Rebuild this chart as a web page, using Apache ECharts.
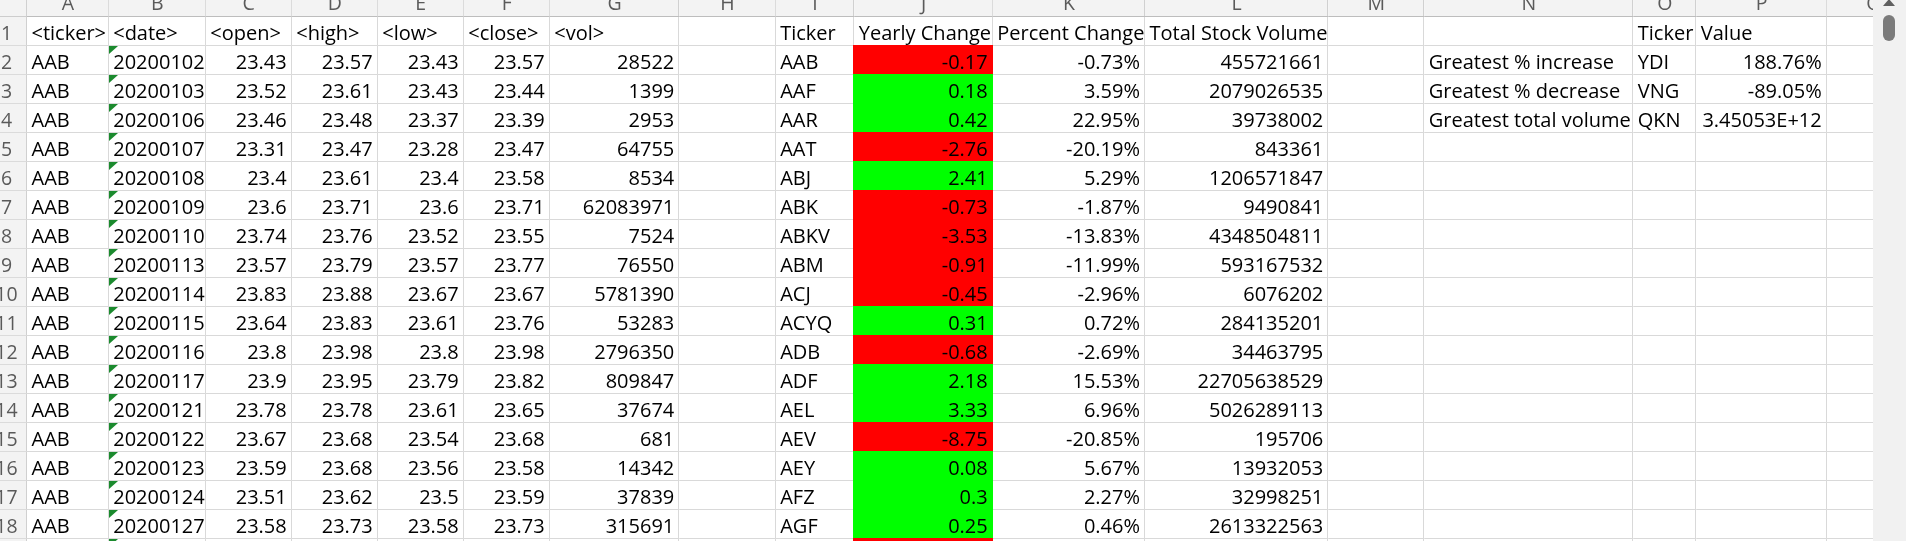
<!DOCTYPE html>
<html>
<head>
<meta charset="utf-8">
<script src="https://cdn.jsdelivr.net/npm/echarts@6/dist/echarts.min.js"></script>
<style>
  html, body { margin: 0; padding: 0; background: #fff; overflow: hidden; }
  #chart { width: 1906px; height: 541px; }
</style>
</head>
<body>
<div id="chart"></div>
<script>
// ---- raw daily rows (columns A-G) ----
const rawHeaders = ['<ticker>', '<date>', '<open>', '<high>', '<low>', '<close>', '<vol>'];
const rawTickers = ['AAB', 'AAB', 'AAB', 'AAB', 'AAB', 'AAB', 'AAB', 'AAB', 'AAB', 'AAB', 'AAB', 'AAB', 'AAB', 'AAB', 'AAB', 'AAB', 'AAB'];
const dates = ['20200102', '20200103', '20200106', '20200107', '20200108', '20200109', '20200110', '20200113', '20200114',
               '20200115', '20200116', '20200117', '20200121', '20200122', '20200123', '20200124', '20200127'];
const opens  = [23.43, 23.52, 23.46, 23.31, 23.4, 23.6, 23.74, 23.57, 23.83, 23.64, 23.8, 23.9, 23.78, 23.67, 23.59, 23.51, 23.58];
const highs  = [23.57, 23.61, 23.48, 23.47, 23.61, 23.71, 23.76, 23.79, 23.88, 23.83, 23.98, 23.95, 23.78, 23.68, 23.68, 23.62, 23.73];
const lows   = [23.43, 23.43, 23.37, 23.28, 23.4, 23.6, 23.52, 23.57, 23.67, 23.61, 23.8, 23.79, 23.61, 23.54, 23.56, 23.5, 23.58];
const closes = [23.57, 23.44, 23.39, 23.47, 23.58, 23.71, 23.55, 23.77, 23.67, 23.76, 23.98, 23.82, 23.65, 23.68, 23.58, 23.59, 23.73];
const vols   = [28522, 1399, 2953, 64755, 8534, 62083971, 7524, 76550, 5781390, 53283, 2796350, 809847, 37674, 681, 14342, 37839, 315691];

// ---- yearly summary (columns I-L) ----
const summaryHeaders = ['Ticker', 'Yearly Change', 'Percent Change', 'Total Stock Volume'];
const tickers = ['AAB', 'AAF', 'AAR', 'AAT', 'ABJ', 'ABK', 'ABKV', 'ABM', 'ACJ', 'ACYQ', 'ADB', 'ADF', 'AEL', 'AEV', 'AEY', 'AFZ', 'AGF'];
const yearlyChange = [-0.17, 0.18, 0.42, -2.76, 2.41, -0.73, -3.53, -0.91, -0.45, 0.31, -0.68, 2.18, 3.33, -8.75, 0.08, 0.3, 0.25];
const percentChange = [-0.73, 3.59, 22.95, -20.19, 5.29, -1.87, -13.83, -11.99, -2.96, 0.72, -2.69, 15.53, 6.96, -20.85, 5.67, 2.27, 0.46];
const totalVolume = [455721661, 2079026535, 39738002, 843361, 1206571847, 9490841, 4348504811, 593167532, 6076202,
                     284135201, 34463795, 22705638529, 5026289113, 195706, 13932053, 32998251, 2613322563];
// row 19 is cut off at the bottom: only its red J fill and the B text flag show
const row19Negative = true;

// ---- greatest table (columns N-P) ----
const greatestHeaders = ['Ticker', 'Value'];
const greatestLabels = ['Greatest % increase', 'Greatest % decrease', 'Greatest total volume'];
const greatestTickers = ['YDI', 'VNG', 'QKN'];
const greatestPct = [188.76, -89.05];
const greatestVolume = 3.45053e12;

const columnLetters = ['A', 'B', 'C', 'D', 'E', 'F', 'G', 'H', 'I', 'J', 'K', 'L', 'M', 'N', 'O', 'P', 'Q'];

// ---- sheet layout ----
const COL_EDGES = [0, 27, 108.7, 205.7, 291.7, 377.7, 463.7, 549.7, 679.3, 775.7, 854.3, 992.7,
                   1145, 1328.3, 1424.3, 1633.3, 1696.3, 1826.7, 1921];
const HEADER_H = 16.7;
const ROW_H = 29;
const ROWS = 19;
const FONT = '"Open Sans", "Liberation Sans", sans-serif';
const FONT_SIZE = 20;
const TEXT_DY = 17.4;
const PAD_L = 4.5, PAD_R = 5;
const RED = '#ff0000', GREEN = '#00ff00';
const GRID_LINE = '#d9d9d9';
const HEAD_BG = '#f3f3f3';

function rowTop(r) { return r === 0 ? -12 : HEADER_H + (r - 1) * ROW_H; }
function rowBottom(r) { return r === 0 ? HEADER_H : HEADER_H + r * ROW_H; }
function pct(v) { return v.toFixed(2) + '%'; }
function general(v) { return v.toExponential(5).toUpperCase(); }

// build cell lists
const textCells = [];
const fillCells = [];
const flagCells = [];
function put(col, row, text, align) { textCells.push({ col: col, row: row, text: String(text), align: align }); }

rawHeaders.forEach((h, i) => put(i + 1, 1, h, 'left'));
dates.forEach((d, i) => {
  const r = i + 2;
  put(1, r, rawTickers[i], 'left');
  put(2, r, d, 'left');
  put(3, r, opens[i], 'right');
  put(4, r, highs[i], 'right');
  put(5, r, lows[i], 'right');
  put(6, r, closes[i], 'right');
  put(7, r, vols[i], 'right');
  flagCells.push({ col: 2, row: r });
});
flagCells.push({ col: 2, row: ROWS });

summaryHeaders.forEach((h, i) => put(i + 9, 1, h, 'left'));
tickers.forEach((t, i) => {
  const r = i + 2;
  put(9, r, t, 'left');
  put(10, r, yearlyChange[i], 'right');
  put(11, r, pct(percentChange[i]), 'right');
  put(12, r, totalVolume[i], 'right');
  fillCells.push({ col: 10, row: r, color: yearlyChange[i] < 0 ? RED : GREEN });
});
fillCells.push({ col: 10, row: ROWS, color: row19Negative ? RED : GREEN });

greatestHeaders.forEach((h, i) => put(15 + i, 1, h, 'left'));
greatestLabels.forEach((l, i) => {
  const r = i + 2;
  put(14, r, l, 'left');
  put(15, r, greatestTickers[i], 'left');
  put(16, r, i < 2 ? pct(greatestPct[i]) : general(greatestVolume), 'right');
});

// every body cell, for the gridlines
const gridCells = [];
for (let c = 1; c < COL_EDGES.length - 1; c++) {
  for (let r = 1; r <= ROWS; r++) gridCells.push({ col: c, row: r });
}
// header band cells: column letters (row 0) and row numbers (col 0)
const headCells = [{ col: 0, row: 0, text: '' }];
columnLetters.forEach((l, i) => headCells.push({ col: i + 1, row: 0, text: l }));
for (let r = 1; r <= ROWS; r++) headCells.push({ col: 0, row: r, text: String(r) });

function cellBox(api, c) {
  const p0 = api.coord([COL_EDGES[c.col], rowTop(c.row)]);
  const p1 = api.coord([COL_EDGES[c.col + 1], rowBottom(c.row)]);
  return { x0: p0[0], y0: p0[1], x1: p1[0], y1: p1[1] };
}

const chart = echarts.init(document.getElementById('chart'));
chart.setOption({
  animation: false,
  backgroundColor: '#ffffff',
  grid: { left: 0, right: 0, top: 0, bottom: 0 },
  xAxis: { type: 'value', min: 0, max: 1906, show: false },
  yAxis: { type: 'value', min: 0, max: 541, inverse: true, show: false },
  series: [
    {
      name: 'gridlines', type: 'custom', z: 1, silent: true,
      data: gridCells.map(c => [c.col, c.row]),
      renderItem: function (params, api) {
        const b = cellBox(api, gridCells[params.dataIndex]);
        const xr = Math.round(b.x1) - 1, yb = Math.round(b.y1) - 1;
        return {
          type: 'group',
          children: [
            { type: 'rect', shape: { x: xr, y: b.y0, width: 1, height: b.y1 - b.y0 }, style: { fill: GRID_LINE } },
            { type: 'rect', shape: { x: b.x0, y: yb, width: b.x1 - b.x0, height: 1 }, style: { fill: GRID_LINE } }
          ]
        };
      }
    },
    {
      name: 'fills', type: 'custom', z: 2, silent: true,
      data: fillCells.map(c => [c.col, c.row]),
      renderItem: function (params, api) {
        const c = fillCells[params.dataIndex];
        const b = cellBox(api, c);
        return {
          type: 'rect',
          shape: { x: Math.round(b.x0) - 1, y: Math.round(b.y0) - 1, width: Math.round(b.x1) - Math.round(b.x0) + 1, height: Math.round(b.y1) - Math.round(b.y0) + 1 },
          style: { fill: c.color }
        };
      }
    },
    {
      name: 'flags', type: 'custom', z: 3, silent: true,
      data: flagCells.map(c => [c.col, c.row]),
      renderItem: function (params, api) {
        const b = cellBox(api, flagCells[params.dataIndex]);
        const x = Math.round(b.x0), y = Math.round(b.y0);
        return {
          type: 'polygon',
          shape: { points: [[x, y], [x + 9, y], [x, y + 8]] },
          style: { fill: '#1b8a2e' }
        };
      }
    },
    {
      name: 'headers', type: 'custom', z: 4, silent: true,
      data: headCells.map(c => [c.col, c.row]),
      renderItem: function (params, api) {
        const c = headCells[params.dataIndex];
        const b = cellBox(api, c);
        const isColHead = c.row === 0;
        const children = [
          { type: 'rect', shape: { x: b.x0, y: b.y0, width: b.x1 - b.x0, height: b.y1 - b.y0 }, style: { fill: HEAD_BG } },
          { type: 'rect', shape: { x: Math.round(b.x1) - 1, y: b.y0, width: 1, height: b.y1 - b.y0 }, style: { fill: isColHead || c.col === 0 ? '#d0d0d0' : GRID_LINE } },
          { type: 'rect', shape: { x: b.x0, y: Math.round(b.y1) - 1, width: b.x1 - b.x0, height: 1 }, style: { fill: isColHead ? '#bdbdbd' : '#d0d0d0' } }
        ];
        if (c.text) {
          children.push({
            type: 'text',
            style: {
              text: c.text,
              x: isColHead ? (b.x0 + b.x1) / 2 : 6.5,
              y: isColHead ? 4.5 : b.y0 + TEXT_DY,
              align: 'center', verticalAlign: 'middle',
              fill: '#5a5a5a', fontSize: 19.5, fontFamily: FONT
            }
          });
        }
        return { type: 'group', children: children };
      }
    },
    {
      name: 'values', type: 'custom', z: 5, silent: true,
      data: textCells.map(c => [c.col, c.row]),
      renderItem: function (params, api) {
        const c = textCells[params.dataIndex];
        const b = cellBox(api, c);
        return {
          type: 'text',
          style: {
            text: c.text,
            x: c.align === 'left' ? b.x0 + PAD_L : b.x1 - PAD_R,
            y: b.y0 + TEXT_DY,
            align: c.align, verticalAlign: 'middle',
            fill: '#000000', fontSize: FONT_SIZE, fontFamily: FONT
          }
        };
      }
    }
  ],
  graphic: [
    // vertical scrollbar on the right edge
    { type: 'rect', z: 100, shape: { x: 1873, y: 0, width: 33, height: 541 }, style: { fill: '#f1f1f1' } },
    { type: 'polygon', z: 101, shape: { points: [[1889, -1], [1895, 6], [1883, 6]] }, style: { fill: '#606060' } },
    { type: 'rect', z: 101, shape: { x: 1883, y: 15, width: 12, height: 26, r: 6 }, style: { fill: '#7b7b7b' } }
  ]
});
</script>
</body>
</html>
